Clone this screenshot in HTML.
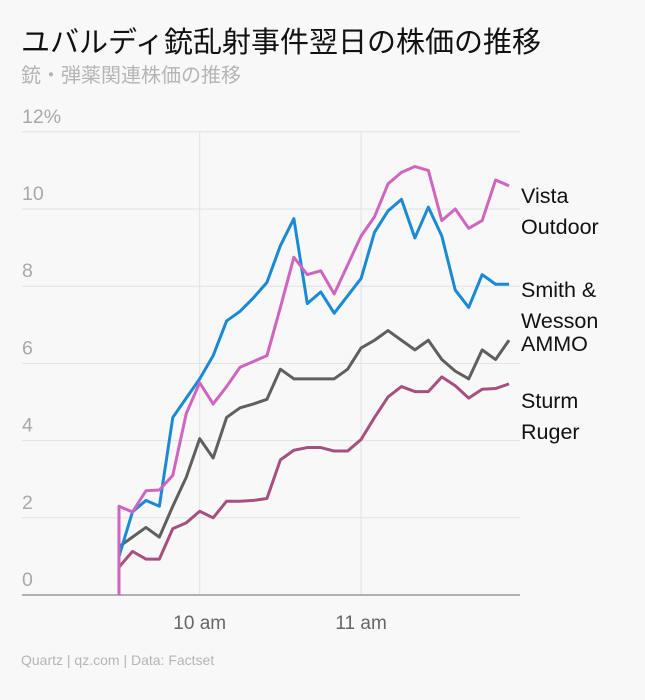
<!DOCTYPE html>
<html><head><meta charset="utf-8">
<style>
body{margin:0;background:#f8f8f8;width:645px;height:695px;overflow:hidden;font-family:"Liberation Sans","Noto Sans CJK JP",sans-serif;}
</style></head>
<body>
<svg width="645" height="695" xmlns="http://www.w3.org/2000/svg" id="svg">
<rect width="645" height="695" fill="#f8f8f8"/>
<text x="21" y="52" font-size="29" fill="#111" font-family="Liberation Sans, Noto Sans CJK JP, sans-serif">ユバルディ銃乱射事件翌日の株価の推移</text>
<text x="21" y="82" font-size="20" fill="#b5b5b5" font-family="Liberation Sans, Noto Sans CJK JP, sans-serif">銃・弾薬関連株価の推移</text>
<g id="grid"></g>
<g id="lines"></g>
<g id="labels"></g>
<text x="21" y="665" font-size="14" fill="#b5b5b5">Quartz | qz.com | Data: Factset</text>
</svg>
<script>
const yTicks=[0,2,4,6,8,10,12];
const yTickLabels=["0","2","4","6","8","10","12%"];
const xTickIdx=[6,18];
const xTickLabels=["10 am","11 am"];
const smith=[1.0,2.15,2.45,2.3,4.6,5.1,5.6,6.2,7.1,7.35,7.7,8.1,9.05,9.75,7.55,7.85,7.3,7.75,8.2,9.4,9.95,10.25,9.25,10.05,9.3,7.9,7.45,8.3,8.05,8.05];
const vista=[2.3,2.15,2.7,2.72,3.1,4.7,5.5,4.95,5.4,5.9,6.05,6.2,7.45,8.75,8.3,8.4,7.8,8.55,9.3,9.8,10.65,10.95,11.1,11.0,9.7,10.0,9.5,9.7,10.75,10.6];
const ammo=[1.25,1.5,1.75,1.5,2.3,3.05,4.05,3.55,4.6,4.85,4.95,5.07,5.85,5.6,5.6,5.6,5.6,5.85,6.4,6.6,6.85,6.6,6.35,6.6,6.1,5.8,5.6,6.35,6.1,6.6];
const ruger=[0.72,1.13,0.93,0.93,1.72,1.87,2.17,2.0,2.43,2.43,2.45,2.5,3.5,3.75,3.82,3.82,3.73,3.73,4.03,4.6,5.13,5.4,5.27,5.27,5.65,5.42,5.1,5.33,5.35,5.47];
const seriesNames=["ruger","ammo","smith","vista"];
const seriesColors=["#a5507f","#5f5f5f","#1a8ad4","#d065c0"];
const seriesData=[ruger,ammo,smith,vista];
const y=v=>595-v*38.6;
const x=i=>119+i*13.45;
const NS="http://www.w3.org/2000/svg";
const grid=document.getElementById('grid'),lines=document.getElementById('lines'),labels=document.getElementById('labels');
function mk(tag,attrs,parent){const e=document.createElementNS(NS,tag);for(const k in attrs)e.setAttribute(k,attrs[k]);parent.appendChild(e);return e;}
xTickIdx.forEach((t,i)=>{
 const l=mk('line',{x1:x(t),x2:x(t),y1:y(12),y2:595,stroke:'#e2e2e2','stroke-width':1},grid);
 
 
 const tx=mk('text',{x:x(t),y:629,'font-size':19,fill:'#666','text-anchor':'middle'},grid);
 tx.textContent=xTickLabels[i];
 
 
});
yTicks.forEach((v,i)=>{
 const l=mk('line',{x1:22,x2:520,y1:y(v),y2:y(v),stroke:v===0?'#999':'#e2e2e2','stroke-width':v===0?1.5:1},grid);
 
 
 const tx=mk('text',{x:22,y:y(v)-9,'font-size':19.5,fill:'#a8a8a8'},grid);
 tx.textContent=yTickLabels[i];
 
 
});
seriesData.forEach((d,s)=>{
 const pts=[[x(0),y(0)]].concat(d.map((v,i)=>[x(i),y(v)]));
 const p=mk('polyline',{points:pts.map(p=>p.join(',')).join(' '),fill:'none',stroke:seriesColors[s],'stroke-width':3,'stroke-linejoin':'round'},lines);
 
 
});
const legend=[["Vista",203],["Outdoor",234],["Smith &",297],["Wesson",328],["AMMO",351],["Sturm",408],["Ruger",439]];
legend.forEach(l=>{
 const t=mk('text',{x:521,y:l[1],'font-size':21.5,fill:'#111'},labels);
 t.textContent=l[0];
 
 
});
</script>
</body></html>
